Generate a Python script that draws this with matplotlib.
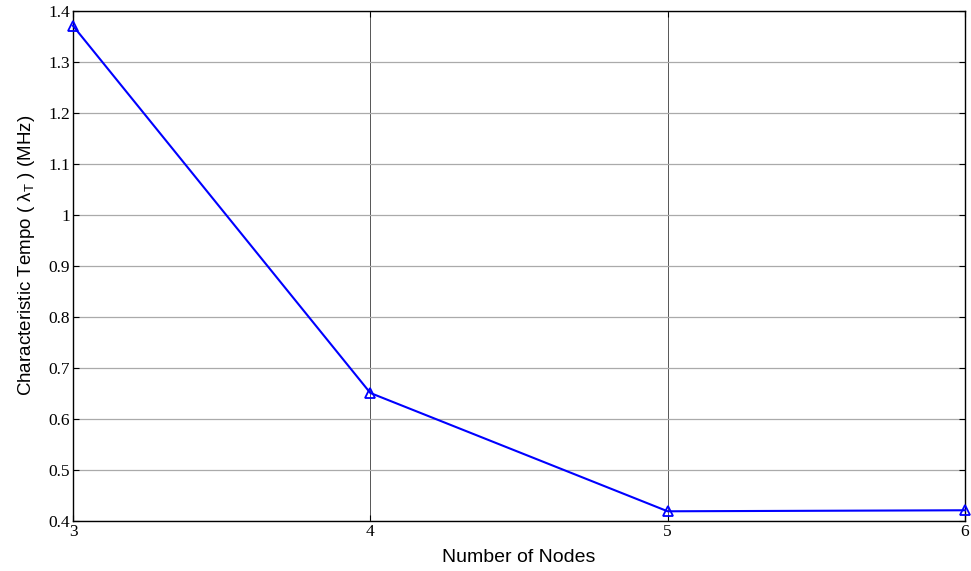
import matplotlib
matplotlib.use("Agg")
import matplotlib.pyplot as plt

# Characteristic tempo vs number of nodes
nodes = [3, 4, 5, 6]
tempo_mhz = [1.371, 0.651, 0.419, 0.421]

x_ticks = [3, 4, 5, 6]
y_ticks = [0.4, 0.5, 0.6, 0.7, 0.8, 0.9, 1.0, 1.1, 1.2, 1.3, 1.4]
y_ticklabels = ['0.4', '0.5', '0.6', '0.7', '0.8', '0.9', '1', '1.1', '1.2', '1.3', '1.4']

plt.rcParams['mathtext.fontset'] = 'custom'
plt.rcParams['mathtext.rm'] = 'Liberation Sans'
plt.rcParams['mathtext.it'] = 'Liberation Sans'

fig = plt.figure(figsize=(9.71, 5.71), dpi=100)
ax = fig.add_axes([0.0752, 0.0876, 0.9186, 0.8931])

ax.plot(nodes, tempo_mhz, color='#0000ff', linewidth=1.5, marker='^',
        markersize=7, markerfacecolor='none', markeredgecolor='#0000ff',
        markeredgewidth=1.3, clip_on=False, zorder=3)

ax.set_xlim(3, 6)
ax.set_ylim(0.4, 1.4)
ax.set_xticks(x_ticks)
ax.set_xticklabels([str(v) for v in x_ticks], family='Liberation Serif', fontsize=12.5)
ax.set_yticks(y_ticks)
ax.set_yticklabels(y_ticklabels, family='Liberation Serif', fontsize=12.5)

ax.tick_params(direction='in', length=4, width=0.8, top=True, right=True, pad=2)
ax.xaxis.grid(True, color='#555555', linewidth=0.7, linestyle='-')
ax.yaxis.grid(True, color='#aaaaaa', linewidth=0.9, linestyle='-')
ax.set_axisbelow(True)
for sp in ax.spines.values():
    sp.set_linewidth(1.0)
    sp.set_color('black')

ax.set_xlabel('Number of Nodes', family='Liberation Sans', fontsize=14, labelpad=7)
ax.set_ylabel(r'Characteristic Tempo ( $\lambda_{\mathrm{T}}$ ) (MHz)',
              family='Liberation Sans', fontsize=13.5, labelpad=6)
ax.yaxis.set_label_coords(-0.040, 0.52)

fig.savefig('out.png', dpi=100)
